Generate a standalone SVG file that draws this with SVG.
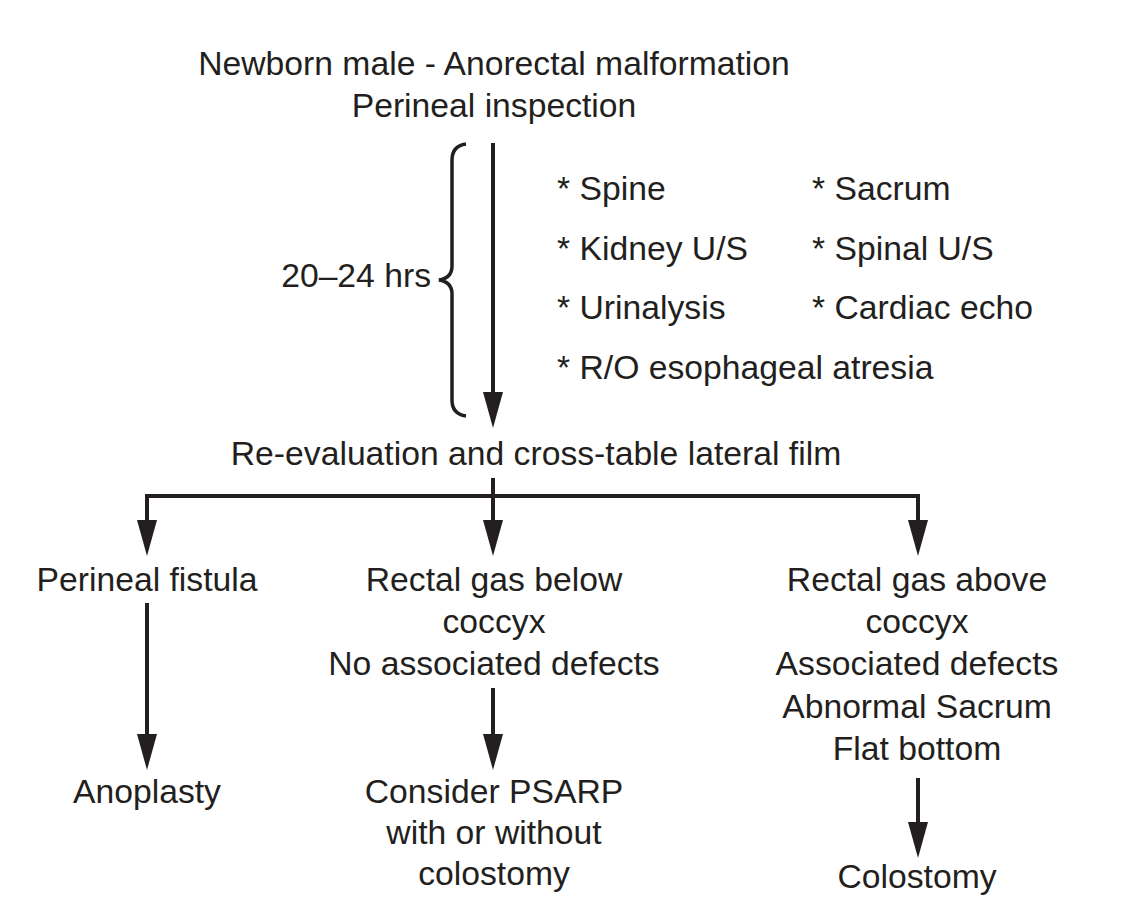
<svg xmlns="http://www.w3.org/2000/svg" width="1133" height="900" viewBox="0 0 1133 900">
<style>
text{font-family:"Liberation Sans",Arial,Helvetica,sans-serif;font-size:33.7px;fill:#231f20}
.m{text-anchor:middle}
.c{stroke:#231f20;stroke-width:4;fill:none}
</style>
<defs>
<marker id="ah" markerUnits="userSpaceOnUse" markerWidth="37" markerHeight="20" refX="1" refY="10" orient="auto">
<path d="M0,0 L36,10 L0,20 z" fill="#231f20"/>
</marker>
</defs>
<rect width="1133" height="900" fill="#fff"/>
<g id="start">
<text class="m" x="494" y="75">Newborn male - Anorectal malformation</text>
<text class="m" x="494" y="117">Perineal inspection</text>
</g>
<g id="workup">
<text x="557" y="200">* Spine</text>
<text x="812" y="200">* Sacrum</text>
<text x="557" y="260">* Kidney U/S</text>
<text x="812" y="260">* Spinal U/S</text>
<text x="557" y="319">* Urinalysis</text>
<text x="812" y="319">* Cardiac echo</text>
<text x="557" y="379">* R/O esophageal atresia</text>
</g>
<g id="timing">
<text x="431" y="287" style="text-anchor:end">20–24 hrs</text>
<path d="M466,144 Q452,146 452,160 L452,266 Q452,278 439,280 Q452,282 452,294 L452,400 Q452,414 466,416" fill="none" stroke="#231f20" stroke-width="3.5"/>
</g>
<g id="reeval">
<text class="m" x="536" y="465">Re-evaluation and cross-table lateral film</text>
</g>
<g id="perineal">
<text class="m" x="147" y="591">Perineal fistula</text>
</g>
<g id="below">
<text class="m" x="494" y="591">Rectal gas below</text>
<text class="m" x="494" y="633">coccyx</text>
<text class="m" x="494" y="675">No associated defects</text>
</g>
<g id="above">
<text class="m" x="917" y="591">Rectal gas above</text>
<text class="m" x="917" y="633">coccyx</text>
<text class="m" x="917" y="675">Associated defects</text>
<text class="m" x="917" y="718">Abnormal Sacrum</text>
<text class="m" x="917" y="760">Flat bottom</text>
</g>
<g id="anoplasty">
<text class="m" x="147" y="803">Anoplasty</text>
</g>
<g id="psarp">
<text class="m" x="494" y="803">Consider PSARP</text>
<text class="m" x="494" y="844">with or without</text>
<text class="m" x="494" y="885">colostomy</text>
</g>
<g id="colostomy">
<text class="m" x="917" y="888">Colostomy</text>
</g>
<g id="connectors">
<path class="c" d="M493,143 L493,393" marker-end="url(#ah)"/>
<path class="c" d="M147,520 L147,496 L918,496 L918,520"/>
<path class="c" d="M147,500 L147,521" marker-end="url(#ah)"/>
<path class="c" d="M918,500 L918,521" marker-end="url(#ah)"/>
<path class="c" d="M493,478 L493,521" marker-end="url(#ah)"/>
<path class="c" d="M147,603 L147,735" marker-end="url(#ah)"/>
<path class="c" d="M493,688 L493,735" marker-end="url(#ah)"/>
<path class="c" d="M918,778 L918,823" marker-end="url(#ah)"/>
</g>
</svg>
